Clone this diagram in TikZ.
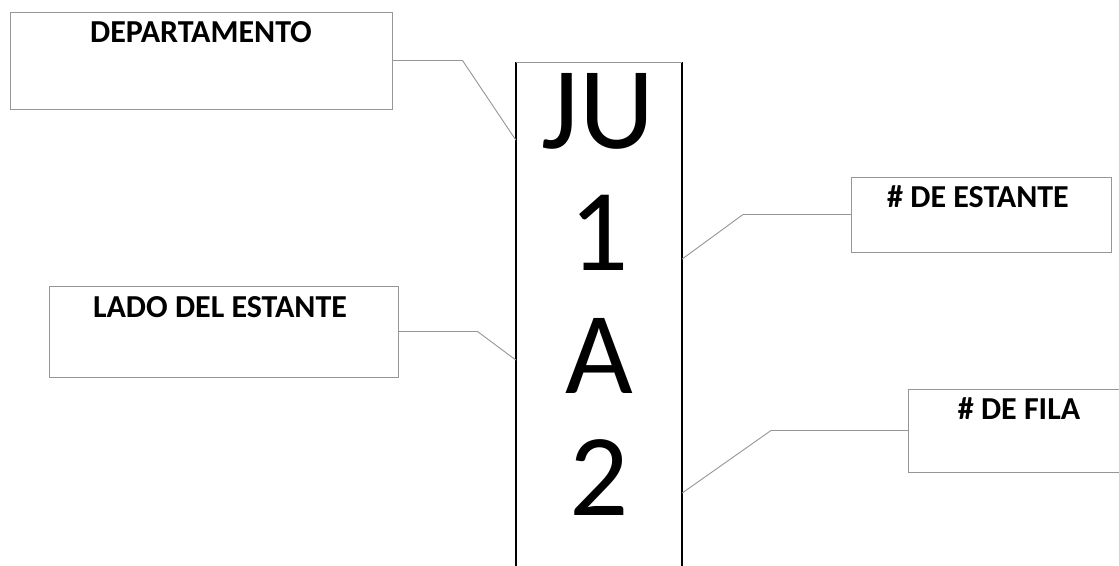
\documentclass[tikz,border=0pt]{standalone}
\usepackage{fontspec}
\setmainfont{Carlito}
\definecolor{linegray}{RGB}{150,150,150}
\begin{document}
\begin{tikzpicture}[x=1pt,y=-1pt,
  lbox/.style={draw=linegray, line width=1pt, rectangle, inner sep=0pt},
  lbl/.style={font=\fontsize{32}{38}\selectfont\bfseries, anchor=base, inner sep=0pt},
  big/.style={font=\fontsize{117}{130}\selectfont, anchor=base, inner sep=0pt},
  conn/.style={draw=linegray, line width=0.9pt},
  side/.style={draw=black, line width=2.4pt}]
\useasboundingbox (0,0) rectangle (1119,565);
\clip (0,0) rectangle (1119,565);
\fill[white] (0,0) rectangle (1119,565);

% central column
\node[inner sep=0pt, minimum width=166pt, minimum height=560pt, anchor=north] (col) at (599,62) {};
\draw[side] (col.north west) -- (col.south west);
\draw[side] (col.north east) -- (col.south east);
\draw[conn] (col.north west) -- (col.north east);

\node[big] (ju) at (598,148) {JU};
\node[big] (one) at (599,270) {1};
\node[big] (a) at (599,393) {A};
\node[big] (two) at (599,515) {2};

% label boxes
\node[lbox, minimum width=382pt, minimum height=97pt] (dep) at (201,60.5) {};
\node[lbl] (tdep) at (201,42.5) {DEPARTAMENTO};

\node[lbox, minimum width=349pt, minimum height=91pt] (lado) at (223.5,331.5) {};
\node[lbl] (tlado) at (220,317) {LADO DEL ESTANTE};

\node[lbox, minimum width=260pt, minimum height=75pt, anchor=west] (est) at (851,214.5) {};
\node[lbl] (test) at (978,207) {\# DE ESTANTE};

\node[lbox, minimum width=240pt, minimum height=83pt, anchor=west] (fila) at (908,430.5) {};
\node[lbl] (tfila) at (1019,419) {\# DE FILA};

% connector end points on the column
\coordinate (e1) at (col.west |- 0,140);
\coordinate (e2) at (col.west |- 0,360);
\coordinate (e3) at (col.east |- 0,259);
\coordinate (e4) at (col.east |- 0,493);

\draw[conn] (dep.east) -- ++(70,0) -- (e1);
\draw[conn] (lado.east) -- ++(79,0) -- (e2);
\draw[conn] (est.west) -- ++(-108,0) -- (e3);
\draw[conn] (fila.west) -- ++(-137,0) -- (e4);
\end{tikzpicture}
\end{document}
